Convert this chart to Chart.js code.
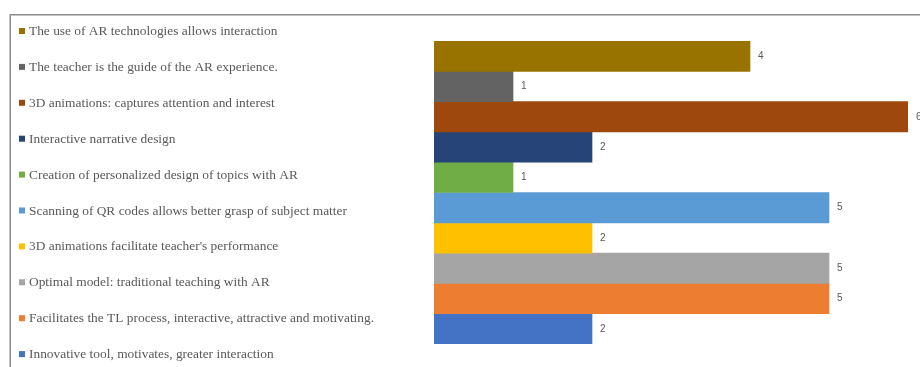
<!DOCTYPE html>
<html>
<head>
<meta charset="utf-8">
<script src="https://cdn.jsdelivr.net/npm/chart.js@4"></script>
<style>
  html, body { margin: 0; padding: 0; background: #fff; }
  canvas { display: block; }
</style>
</head>
<body>
<canvas id="arChart" width="920" height="367"></canvas>
<script>
// Series, top to bottom as they appear in the picture
const seriesNames = [
  "The use of AR technologies allows interaction",
  "The teacher is the guide of the AR experience.",
  "3D animations: captures attention and interest",
  "Interactive narrative design",
  "Creation of personalized design of topics with AR",
  "Scanning of QR codes allows better grasp of subject matter",
  "3D animations facilitate teacher's performance",
  "Optimal model: traditional teaching with AR",
  "Facilitates the TL process, interactive, attractive and motivating.",
  "Innovative tool, motivates, greater interaction",
];
const seriesValues = [4, 1, 6, 2, 1, 5, 2, 5, 5, 2];
const seriesColors = [
  "#997300",
  "#636363",
  "#9e480e",
  "#264478",
  "#70ad47",
  "#5b9bd5",
  "#ffc000",
  "#a5a5a5",
  "#ed7d31",
  "#4472c4",
];
const categories = [""];

// frame + legend on the left
const framePlugin = {
  id: "frame",
  beforeDraw(chart) {
    const ctx = chart.ctx;
    ctx.save();
    ctx.strokeStyle = "#8c8c8c";
    ctx.lineWidth = 1.5;
    ctx.beginPath();
    ctx.moveTo(10.25, 367);
    ctx.lineTo(10.25, 14.75);
    ctx.lineTo(920, 14.75);
    ctx.stroke();
    ctx.restore();
  },
};

const sideLegend = {
  id: "sideLegend",
  afterDraw(chart) {
    const ctx = chart.ctx;
    ctx.save();
    ctx.font = "13.4px 'Liberation Serif', 'Times New Roman', serif";
    ctx.textBaseline = "middle";
    ctx.textAlign = "left";
    seriesNames.forEach((name, i) => {
      const y = 31 + i * 35.9;
      ctx.fillStyle = seriesColors[i];
      ctx.fillRect(19, y - 3, 6, 6);
      ctx.fillStyle = "#595959";
      ctx.fillText(name, 29, y + 0.5);
    });
    ctx.restore();
  },
};

// value labels at the end of each bar
const valueLabels = {
  id: "valueLabels",
  afterDatasetsDraw(chart) {
    const ctx = chart.ctx;
    ctx.save();
    ctx.font = "10px 'Liberation Sans', Arial, sans-serif";
    ctx.fillStyle = "#595959";
    ctx.textBaseline = "middle";
    chart.data.datasets.forEach((ds, i) => {
      const bar = chart.getDatasetMeta(i).data[0];
      ctx.fillText(String(ds.data[0]), bar.x + 8, bar.y);
    });
    ctx.restore();
  },
};

const ctx = document.getElementById("arChart").getContext("2d");
const arChart = new Chart(ctx, {
  type: "bar",
  data: {
    labels: categories,
    datasets: seriesNames.map((name, i) => ({
      label: name,
      data: [seriesValues[i]],
      backgroundColor: seriesColors[i],
      borderWidth: 0,
      barPercentage: 1,
      categoryPercentage: 1,
    })),
  },
  options: {
    indexAxis: "y",
    responsive: false,
    animation: false,
    layout: {
      padding: { left: 434, top: 41, right: 12, bottom: 23 },
    },
    plugins: {
      legend: { display: false },
      tooltip: { enabled: false },
    },
    scales: {
      x: { display: false, min: 0, max: 6 },
      y: { display: false },
    },
  },
  plugins: [framePlugin, sideLegend, valueLabels],
});
</script>
</body>
</html>
